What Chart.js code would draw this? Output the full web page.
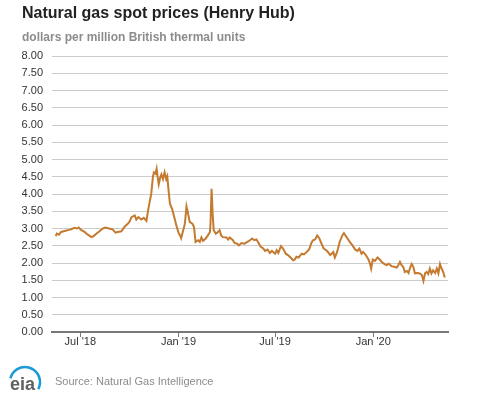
<!DOCTYPE html>
<html>
<head>
<meta charset="utf-8">
<script src="https://cdn.jsdelivr.net/npm/chart.js@4"></script>
<style>
  html, body { margin: 0; padding: 0; background: #fff; }
</style>
</head>
<body>
<canvas id="chart" width="477" height="393"></canvas>
<script>
//----- data (Henry Hub spot, $/MMBtu) -----//
const dates = [
  '2018-05-16','2018-05-18','2018-05-22','2018-05-26','2018-05-31','2018-06-05','2018-06-10','2018-06-14',
  '2018-06-20','2018-06-25','2018-06-28','2018-07-03','2018-07-09','2018-07-15','2018-07-22','2018-07-26',
  '2018-07-31','2018-08-06','2018-08-12','2018-08-17','2018-08-24','2018-08-30','2018-09-05','2018-09-09',
  '2018-09-16','2018-09-22','2018-09-27','2018-10-01','2018-10-05','2018-10-11','2018-10-14','2018-10-18',
  '2018-10-23','2018-10-28','2018-11-02','2018-11-05','2018-11-08','2018-11-11','2018-11-14','2018-11-16',
  '2018-11-19','2018-11-21','2018-11-23','2018-11-25','2018-11-28','2018-11-30','2018-12-03','2018-12-06',
  '2018-12-09','2018-12-11','2018-12-14','2018-12-16','2018-12-20','2018-12-24','2018-12-28','2019-01-01',
  '2019-01-04','2019-01-06','2019-01-09','2019-01-13','2019-01-16','2019-01-19','2019-01-22','2019-01-27',
  '2019-01-30','2019-02-02','2019-02-07','2019-02-10','2019-02-13','2019-02-16','2019-02-21','2019-02-25',
  '2019-03-01','2019-03-02','2019-03-04','2019-03-06','2019-03-08','2019-03-12','2019-03-16','2019-03-19',
  '2019-03-22','2019-03-25','2019-04-01','2019-04-04','2019-04-07','2019-04-13','2019-04-16','2019-04-21',
  '2019-04-24','2019-04-29','2019-05-05','2019-05-10','2019-05-15','2019-05-19','2019-05-23','2019-05-27',
  '2019-05-30','2019-06-04','2019-06-09','2019-06-12','2019-06-17','2019-06-21','2019-06-25','2019-07-01',
  '2019-07-04','2019-07-07','2019-07-12','2019-07-16','2019-07-21','2019-07-25','2019-07-30','2019-08-04',
  '2019-08-07','2019-08-10','2019-08-14','2019-08-20','2019-08-24','2019-08-29','2019-09-03','2019-09-07',
  '2019-09-10','2019-09-14','2019-09-18','2019-09-22','2019-09-26','2019-09-30','2019-10-05','2019-10-08',
  '2019-10-12','2019-10-15','2019-10-18','2019-10-21','2019-10-24','2019-10-27','2019-10-30','2019-11-04',
  '2019-11-07','2019-11-11','2019-11-15','2019-11-18','2019-11-23','2019-11-28','2019-12-02','2019-12-06',
  '2019-12-10','2019-12-13','2019-12-18','2019-12-23','2019-12-26','2019-12-28','2019-12-31','2020-01-04',
  '2020-01-09','2020-01-13','2020-01-17','2020-01-22','2020-01-26','2020-01-30','2020-02-04','2020-02-09',
  '2020-02-14','2020-02-17','2020-02-20','2020-02-23','2020-02-26','2020-02-29','2020-03-04','2020-03-07',
  '2020-03-10','2020-03-13','2020-03-16','2020-03-19','2020-03-24','2020-03-28','2020-04-01','2020-04-04',
  '2020-04-07','2020-04-10','2020-04-13','2020-04-16','2020-04-19','2020-04-22','2020-04-26','2020-04-29',
  '2020-05-02','2020-05-05','2020-05-08','2020-05-11','2020-05-14'
];
const prices = [
  2.78,2.85,2.82,2.90,2.92,2.94,2.96,2.98,
  3.02,3.00,3.03,2.95,2.90,2.82,2.75,2.78,
  2.85,2.92,3.00,3.03,3.00,2.98,2.88,2.90,
  2.92,3.05,3.12,3.19,3.33,3.38,3.26,3.33,
  3.26,3.31,3.22,3.52,3.77,4.01,4.49,4.63,
  4.59,4.73,4.49,4.28,4.49,4.57,4.43,4.63,
  4.43,4.51,4.01,3.72,3.57,3.33,3.09,2.88,
  2.80,2.72,2.90,3.14,3.64,3.43,3.19,3.14,
  3.05,2.61,2.66,2.61,2.74,2.64,2.71,2.80,
  2.90,3.14,4.15,3.43,2.95,2.85,2.90,2.95,
  2.80,2.75,2.74,2.68,2.74,2.66,2.58,2.56,
  2.51,2.58,2.56,2.61,2.66,2.71,2.66,2.68,
  2.61,2.47,2.42,2.35,2.39,2.29,2.35,2.27,
  2.37,2.29,2.49,2.42,2.27,2.23,2.16,2.08,
  2.10,2.18,2.16,2.27,2.25,2.32,2.40,2.58,
  2.66,2.68,2.80,2.71,2.56,2.42,2.37,2.32,
  2.23,2.27,2.32,2.16,2.27,2.42,2.61,2.80,
  2.87,2.77,2.68,2.61,2.51,2.39,2.35,2.42,
  2.27,2.32,2.23,2.10,1.98,1.84,2.10,2.06,
  2.16,2.10,2.03,1.97,1.94,1.98,1.91,1.89,
  1.87,1.94,2.03,1.94,1.89,1.74,1.77,1.71,
  1.87,1.97,1.89,1.70,1.71,1.70,1.65,1.48,
  1.70,1.74,1.68,1.84,1.70,1.79,1.71,1.84,
  1.70,1.97,1.84,1.74,1.58
];
const tickDates  = ['2018-07-01','2019-01-01','2019-07-01','2020-01-01'];
const tickLabels = ["Jul '18","Jan '19","Jul '19","Jan '20"];
const axisStart  = '2018-05-09';
const axisEnd    = '2020-05-20';

const titleText    = 'Natural gas spot prices (Henry Hub)';
const subtitleText = 'dollars per million British thermal units';
const sourceText   = 'Source: Natural Gas Intelligence';

//date string -> day number (linear x axis, no date adapter needed)
function dayNum(s){
  return Date.parse(s + 'T00:00:00Z') / 86400000;
}

const points = dates.map((d, i) => ({ x: dayNum(d), y: prices[i] }));

//----- texts + eia logo drawn on the canvas -----//
const headerFooter = {
  id: 'headerFooter',
  afterDraw(chart){
    const ctx = chart.ctx;
    ctx.save();
    ctx.textAlign = 'left';
    ctx.textBaseline = 'alphabetic';

    ctx.fillStyle = '#222222';
    ctx.font = 'bold 16px "Liberation Sans", Arial, sans-serif';
    ctx.fillText(titleText, 22, 18);

    ctx.fillStyle = '#8c8c8c';
    ctx.font = 'bold 12px "Liberation Sans", Arial, sans-serif';
    ctx.fillText(subtitleText, 22, 41);

    ctx.fillStyle = '#8c8c8c';
    ctx.font = '11px "Liberation Sans", Arial, sans-serif';
    ctx.fillText(sourceText, 55, 385);

    //logo
    ctx.fillStyle = '#5f6062';
    ctx.font = 'bold 18px "Liberation Sans", Arial, sans-serif';
    ctx.fillText('eia', 10, 390);
    ctx.strokeStyle = '#1a9ad6';
    ctx.lineWidth = 2.5;
    ctx.beginPath();
    ctx.arc(25, 382, 15, -2.9, 0.5);
    ctx.stroke();
    ctx.restore();
  }
};

new Chart(document.getElementById('chart'), {
  type: 'line',
  data: {
    datasets: [{
      data: points,
      borderColor: '#c47a2f',
      borderWidth: 2,
      pointRadius: 0,
      fill: false,
      tension: 0
    }]
  },
  options: {
    responsive: false,
    animation: false,
    layout: { padding: { top: 56, left: 22, right: 29, bottom: 0 } },
    plugins: {
      legend: { display: false },
      tooltip: { enabled: false }
    },
    scales: {
      x: {
        type: 'linear',
        min: dayNum(axisStart),
        max: dayNum(axisEnd),
        afterBuildTicks: scale => {
          scale.ticks = tickDates.map(d => ({ value: dayNum(d) }));
        },
        afterFit: scale => { scale.height = 61; },
        ticks: {
          autoSkip: false,
          maxRotation: 0,
          padding: -2,
          color: '#333333',
          font: { size: 11, family: '"Liberation Sans", Arial, sans-serif' },
          callback: (v, i) => tickLabels[i]
        },
        grid: { drawOnChartArea: false, drawTicks: true, tickLength: 5, color: '#777777' },
        border: { display: true, color: '#777777', width: 2 }
      },
      y: {
        min: 0,
        max: 8,
        afterFit: scale => { scale.width = 30; },
        ticks: {
          stepSize: 0.5,
          padding: 9,
          color: '#333333',
          font: { size: 11, family: '"Liberation Sans", Arial, sans-serif' },
          callback: v => v.toFixed(2)
        },
        grid: {
          drawTicks: false,
          color: c => (c.tick && c.tick.value === 0) ? 'rgba(0,0,0,0)' : '#cccccc',
          lineWidth: 1
        },
        border: { display: false }
      }
    }
  },
  plugins: [headerFooter]
});
</script>
</body>
</html>
